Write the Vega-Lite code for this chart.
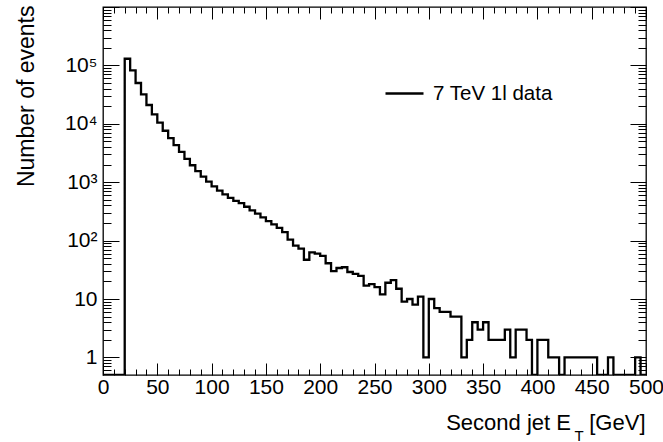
{
  "$schema": "https://vega.github.io/schema/vega-lite/v6.json",
  "width": 543,
  "height": 368,
  "autosize": "none",
  "padding": {"left": 103, "top": 7, "right": 17, "bottom": 67},
  "background": "white",
  "data": {"values": [
    {"et": 0, "n": 0}, {"et": 5, "n": 0}, {"et": 10, "n": 0}, {"et": 15, "n": 0},
    {"et": 20, "n": 130000}, {"et": 25, "n": 82000}, {"et": 30, "n": 50000}, {"et": 35, "n": 32000},
    {"et": 40, "n": 21000}, {"et": 45, "n": 14500}, {"et": 50, "n": 10500}, {"et": 55, "n": 7600},
    {"et": 60, "n": 5700}, {"et": 65, "n": 4300}, {"et": 70, "n": 3300}, {"et": 75, "n": 2500},
    {"et": 80, "n": 1950}, {"et": 85, "n": 1550}, {"et": 90, "n": 1250}, {"et": 95, "n": 1020},
    {"et": 100, "n": 850}, {"et": 105, "n": 720}, {"et": 110, "n": 620}, {"et": 115, "n": 540},
    {"et": 120, "n": 480}, {"et": 125, "n": 440}, {"et": 130, "n": 380}, {"et": 135, "n": 330},
    {"et": 140, "n": 290}, {"et": 145, "n": 250}, {"et": 150, "n": 215}, {"et": 155, "n": 190},
    {"et": 160, "n": 165}, {"et": 165, "n": 140}, {"et": 170, "n": 104}, {"et": 175, "n": 82},
    {"et": 180, "n": 73}, {"et": 185, "n": 47}, {"et": 190, "n": 63}, {"et": 195, "n": 60},
    {"et": 200, "n": 55}, {"et": 205, "n": 41}, {"et": 210, "n": 30}, {"et": 215, "n": 34},
    {"et": 220, "n": 35}, {"et": 225, "n": 29}, {"et": 230, "n": 27}, {"et": 235, "n": 25},
    {"et": 240, "n": 17}, {"et": 245, "n": 18}, {"et": 250, "n": 16}, {"et": 255, "n": 12},
    {"et": 260, "n": 19}, {"et": 265, "n": 21}, {"et": 270, "n": 15}, {"et": 275, "n": 9},
    {"et": 280, "n": 10}, {"et": 285, "n": 8}, {"et": 290, "n": 11}, {"et": 295, "n": 1},
    {"et": 300, "n": 10}, {"et": 305, "n": 7}, {"et": 310, "n": 6}, {"et": 315, "n": 6},
    {"et": 320, "n": 5}, {"et": 325, "n": 5}, {"et": 330, "n": 1}, {"et": 335, "n": 2},
    {"et": 340, "n": 4}, {"et": 345, "n": 3}, {"et": 350, "n": 4}, {"et": 355, "n": 2},
    {"et": 360, "n": 2}, {"et": 365, "n": 2}, {"et": 370, "n": 3}, {"et": 375, "n": 1},
    {"et": 380, "n": 3}, {"et": 385, "n": 3}, {"et": 390, "n": 2}, {"et": 395, "n": 0},
    {"et": 400, "n": 2}, {"et": 405, "n": 2}, {"et": 410, "n": 1}, {"et": 415, "n": 1},
    {"et": 420, "n": 0}, {"et": 425, "n": 1}, {"et": 430, "n": 1}, {"et": 435, "n": 1},
    {"et": 440, "n": 1}, {"et": 445, "n": 1}, {"et": 450, "n": 1}, {"et": 455, "n": 0},
    {"et": 460, "n": 0}, {"et": 465, "n": 1}, {"et": 470, "n": 0}, {"et": 475, "n": 0},
    {"et": 480, "n": 0}, {"et": 485, "n": 0}, {"et": 490, "n": 1}, {"et": 495, "n": 0},
    {"et": 500, "n": 0}
  ]},
  "layer": [
    {
      "mark": {"type": "line", "interpolate": "step-after", "strokeWidth": 2.3, "invalid": "show", "clip": true},
      "encoding": {
        "x": {"field": "et", "type": "quantitative",
          "scale": {"domain": [0, 500], "nice": false, "zero": false},
          "axis": {"orient": "bottom", "values": [0, 50, 100, 150, 200, 250, 300, 350, 400, 450, 500],
            "ticks": false, "labelFontSize": 21, "labelPadding": 1, "labelFlush": false,
            "title": "Second jet E\u00a0\u00a0\u00a0[GeV]", "titleFontSize": 22, "titleAlign": "right",
            "titleAnchor": "end", "titleBaseline": "alphabetic", "titleX": 542, "titleY": 54}},
        "y": {"field": "n", "type": "quantitative",
          "scale": {"type": "log", "domain": [0.5, 1000000], "nice": false, "clamp": true},
          "axis": {"orient": "left", "values": [1, 10, 100, 1000, 10000, 100000],
            "ticks": false, "labelFontSize": 21, "labelPadding": 6,
            "labelExpr": "datum.value == 1 ? '1' : datum.value == 10 ? '10' : '10' + ['', '', '²', '³', '⁴', '⁵', '⁶'][round(log(datum.value) / LN10)]",
            "title": "Number of events", "titleFontSize": 23, "titleAngle": -90, "titleAlign": "right",
            "titleAnchor": "end", "titleBaseline": "alphabetic", "titleX": -70, "titleY": -2}},
        "color": {"datum": "7 TeV 1l data", "type": "nominal",
          "scale": {"range": ["black"]},
          "legend": {"orient": "none", "legendX": 281, "legendY": 66, "title": null,
            "symbolType": "stroke", "symbolSize": 1444, "symbolStrokeWidth": 2.3,
            "labelFontSize": 20.5, "labelFont": "Liberation Sans", "labelColor": "black",
            "labelOffset": 8, "padding": 0}}
      }
    },
    {
      "mark": {"type": "line", "opacity": 0, "invalid": "show"},
      "encoding": {
        "x": {"field": "et", "type": "quantitative",
          "scale": {"domain": [0, 500], "nice": false, "zero": false},
          "axis": {"orient": "bottom", "values": [0, 50, 100, 150, 200, 250, 300, 350, 400, 450, 500],
            "labels": false, "tickSize": -12, "title": null}},
        "y": {"field": "n", "type": "quantitative",
          "scale": {"type": "log", "domain": [0.5, 1000000], "nice": false, "clamp": true},
          "axis": {"orient": "left", "values": [1, 10, 100, 1000, 10000, 100000, 1000000],
            "labels": false, "tickSize": -16, "title": null}}
      }
    },
    {
      "mark": {"type": "line", "opacity": 0, "invalid": "show"},
      "encoding": {
        "x": {"field": "et", "type": "quantitative",
          "scale": {"domain": [0, 500], "nice": false, "zero": false},
          "axis": {"orient": "bottom",
            "values": [10, 20, 30, 40, 60, 70, 80, 90, 110, 120, 130, 140, 160, 170, 180, 190, 210, 220, 230, 240, 260, 270, 280, 290, 310, 320, 330, 340, 360, 370, 380, 390, 410, 420, 430, 440, 460, 470, 480, 490],
            "labels": false, "tickSize": -6,
            "title": "T", "titleFontSize": 15, "titleAlign": "left", "titleAnchor": "start",
            "titleBaseline": "alphabetic", "titleX": 471, "titleY": 65}},
        "y": {"field": "n", "type": "quantitative",
          "scale": {"type": "log", "domain": [0.5, 1000000], "nice": false, "clamp": true},
          "axis": {"orient": "left",
            "values": [0.6, 0.7, 0.8, 0.9, 2, 3, 4, 5, 6, 7, 8, 9, 20, 30, 40, 50, 60, 70, 80, 90, 200, 300, 400, 500, 600, 700, 800, 900, 2000, 3000, 4000, 5000, 6000, 7000, 8000, 9000, 20000, 30000, 40000, 50000, 60000, 70000, 80000, 90000, 200000, 300000, 400000, 500000, 600000, 700000, 800000, 900000],
            "labels": false, "tickSize": -8, "title": null}}
      }
    },
    {
      "mark": {"type": "line", "opacity": 0, "invalid": "show"},
      "encoding": {
        "x": {"field": "et", "type": "quantitative",
          "scale": {"domain": [0, 500], "nice": false, "zero": false},
          "axis": {"orient": "top", "values": [0, 50, 100, 150, 200, 250, 300, 350, 400, 450, 500],
            "labels": false, "tickSize": -12, "title": null}},
        "y": {"field": "n", "type": "quantitative",
          "scale": {"type": "log", "domain": [0.5, 1000000], "nice": false, "clamp": true},
          "axis": {"orient": "right", "values": [1, 10, 100, 1000, 10000, 100000, 1000000],
            "labels": false, "tickSize": -16, "title": null}}
      }
    },
    {
      "mark": {"type": "line", "opacity": 0, "invalid": "show"},
      "encoding": {
        "x": {"field": "et", "type": "quantitative",
          "scale": {"domain": [0, 500], "nice": false, "zero": false},
          "axis": {"orient": "top",
            "values": [10, 20, 30, 40, 60, 70, 80, 90, 110, 120, 130, 140, 160, 170, 180, 190, 210, 220, 230, 240, 260, 270, 280, 290, 310, 320, 330, 340, 360, 370, 380, 390, 410, 420, 430, 440, 460, 470, 480, 490],
            "labels": false, "tickSize": -6, "title": null}},
        "y": {"field": "n", "type": "quantitative",
          "scale": {"type": "log", "domain": [0.5, 1000000], "nice": false, "clamp": true},
          "axis": {"orient": "right",
            "values": [0.6, 0.7, 0.8, 0.9, 2, 3, 4, 5, 6, 7, 8, 9, 20, 30, 40, 50, 60, 70, 80, 90, 200, 300, 400, 500, 600, 700, 800, 900, 2000, 3000, 4000, 5000, 6000, 7000, 8000, 9000, 20000, 30000, 40000, 50000, 60000, 70000, 80000, 90000, 200000, 300000, 400000, 500000, 600000, 700000, 800000, 900000],
            "labels": false, "tickSize": -8, "title": null}}
      }
    }
  ],
  "resolve": {"axis": {"x": "independent", "y": "independent"}},
  "config": {
    "view": {"stroke": "black", "strokeWidth": 1.3},
    "axis": {"domain": false, "grid": false, "labelFont": "Liberation Sans", "titleFont": "Liberation Sans",
      "labelColor": "black", "titleColor": "black", "tickColor": "black", "tickWidth": 1,
      "titleFontWeight": "normal", "titlePadding": 0}
  }
}
